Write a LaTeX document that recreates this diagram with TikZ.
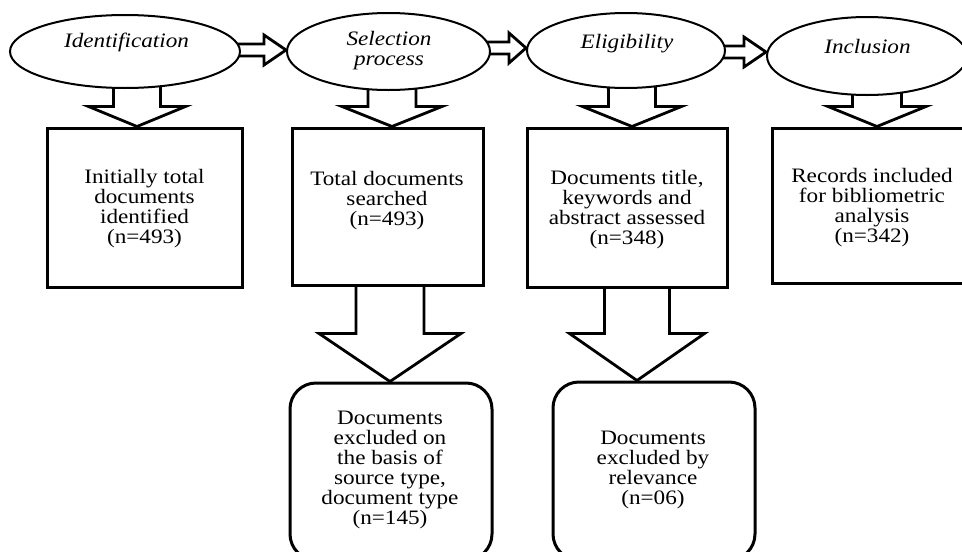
\documentclass[tikz,border=0pt]{standalone}
\usepackage{fontspec}
\setmainfont{Liberation Serif}[FakeStretch=1.13]
\usetikzlibrary{calc,shapes.geometric,backgrounds}

% hollow block arrow pointing down: from, to, shaft half-width, head half-width, head length, start inset
\newcommand\downblock[6]{%
  \path[blockarrow] let \p1=(#1), \p2=(#2) in
    (\x2-#3,\y1+#6) -- (\x2-#3,\y2+#5) -- (\x2-#4,\y2+#5) -- (\x2,\y2)
    -- (\x2+#4,\y2+#5) -- (\x2+#3,\y2+#5) -- (\x2+#3,\y1+#6) -- cycle;}
% hollow block arrow pointing right: from, to, shaft half-height, head half-height, head length
\newcommand\rightblock[5]{%
  \path[blockarrow] let \p1=(#1), \p2=(#2) in
    (\x1-10pt,\y2+#3) -- (\x2-#5,\y2+#3) -- (\x2-#5,\y2+#4) -- (\x2,\y2)
    -- (\x2-#5,\y2-#4) -- (\x2-#5,\y2-#3) -- (\x1-10pt,\y2-#3) -- cycle;}

\begin{document}
\begin{tikzpicture}[x=1pt,y=-1pt,
  phase/.style={ellipse, draw, fill=white, line width=2pt, inner sep=0pt},
  phasetext/.style={font=\fontsize{20.5}{20}\selectfont\itshape, align=center, inner sep=0pt},
  stagebox/.style={rectangle, draw, fill=white, line width=3pt, inner sep=0pt},
  excludebox/.style={rectangle, rounded corners=26pt, draw, fill=white, line width=3pt, inner sep=0pt},
  note/.style={font=\fontsize{20.5}{20}\selectfont, align=center, inner sep=0pt},
  blockarrow/.style={draw, fill=white, line width=2.8pt, line join=miter, miter limit=10}]
\useasboundingbox (0,0) rectangle (962,552);
\clip (0,0) rectangle (962,552);

% phases
\node[phase, minimum width=230pt, minimum height=73pt] (e1) at (125,51.5) {};
\node[phase, minimum width=203pt, minimum height=77pt] (e2) at (388.5,51.5) {};
\node[phase, minimum width=198pt, minimum height=75pt] (e3) at (626,50.5) {};
\node[phase, minimum width=200pt, minimum height=78pt] (e4) at (867,56) {};

\node[phasetext, anchor=base] (l1) at (126.5,47) {Identification};
\node[phasetext] (l2) at (389,51) {Selection\\process};
\node[phasetext, anchor=base] (l3) at (627,48) {Eligibility};
\node[phasetext, anchor=base] (l4) at (867.5,53) {Inclusion};

% stage boxes
\node[stagebox, minimum width=195pt, minimum height=159pt] (b1) at (144.5,207.5) {};
\node[stagebox, minimum width=191pt, minimum height=157pt] (b2) at (387.5,206.5) {};
\node[stagebox, minimum width=200pt, minimum height=159pt] (b3) at (627,207.5) {};
\node[stagebox, minimum width=200pt, minimum height=155pt] (b4) at (872,205.5) {};

\node[note] (t1) at (144.5,209) {Initially total\\documents\\identified\\(n=493)};
\node[note] (t2) at (387,201) {Total documents\\searched\\(n=493)};
\node[note] (t3) at (627,210) {Documents title,\\keywords and\\abstract assessed\\(n=348)};
\node[note] (t4) at (872,208) {Records included\\for bibliometric\\analysis\\(n=342)};

% exclusion boxes
\node[excludebox, minimum width=202pt, minimum height=177pt] (r1) at (391,471.5) {};
\node[excludebox, minimum width=202pt, minimum height=178pt] (r2) at (654,471) {};

\node[note] (t5) at (390,470) {Documents\\excluded on\\the basis of\\source type,\\document type\\(n=145)};
\node[note] (t6) at (653,470) {Documents\\excluded by\\relevance\\(n=06)};

% connectors, kept beneath the shapes
\begin{scope}[on background layer]
  \rightblock{e1.east}{$(e2.west)+(0,-1.5)$}{6pt}{15pt}{22pt}
  \rightblock{e2.east}{$(e3.west)+(0,-2.5)$}{6pt}{15pt}{17pt}
  \rightblock{e3.east}{$(e4.west)+(0,-4)$}{6pt}{15pt}{22pt}
  \downblock{e1.south}{$(b1.north)+(-7.5,0)$}{23.5pt}{48.5pt}{20pt}{12pt}
  \downblock{e2.south}{$(b2.north)+(4.5,0)$}{24pt}{50pt}{20pt}{12pt}
  \downblock{e3.south}{$(b3.north)+(5,0)$}{23.5pt}{49.5pt}{20pt}{12pt}
  \downblock{e4.south}{$(b4.north)+(5,0)$}{24.5pt}{49pt}{20pt}{12pt}
  \downblock{b2.south}{$(r1.north)+(-1,0)$}{34pt}{71pt}{48pt}{3pt}
  \downblock{b3.south}{$(r2.north)+(-17,0)$}{32.5pt}{67.5pt}{47pt}{3pt}
\end{scope}
\end{tikzpicture}
\end{document}
